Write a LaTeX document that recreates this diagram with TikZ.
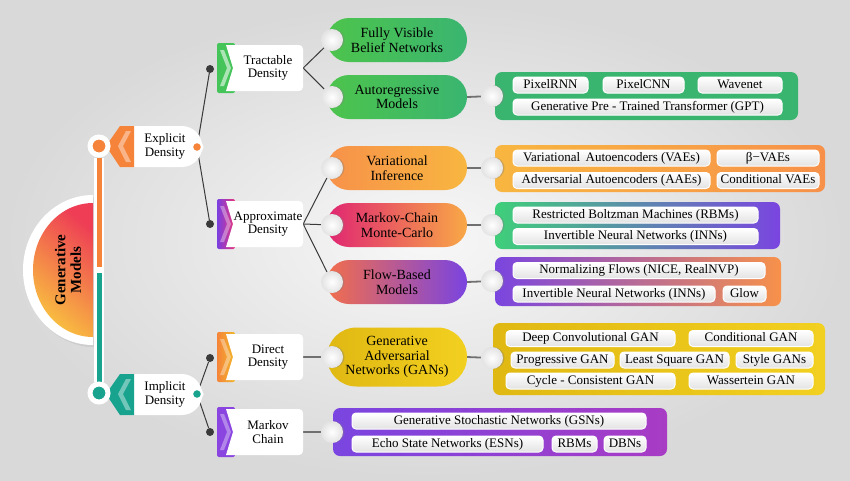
\documentclass[tikz,border=0pt]{standalone}
\usepackage{fontspec}
\setmainfont{Liberation Serif}
\usetikzlibrary{positioning, shapes.misc, shadows}

\definecolor{linkgray}{HTML}{3A3A3A}
\definecolor{stubgray}{HTML}{707070}
\definecolor{exporange}{HTML}{F5843A}
\definecolor{impteal}{HTML}{17A38E}
\definecolor{gmred}{HTML}{EE3D55}
\definecolor{gmyellow}{HTML}{F9C23F}
\definecolor{tractgreen}{HTML}{45C45A}
\definecolor{apppurple}{HTML}{7A3FE0}
\definecolor{appmagenta}{HTML}{E8357E}
\definecolor{diryellow}{HTML}{F2B62A}
\definecolor{mkvpurple}{HTML}{8A45E0}
\definecolor{grnA}{HTML}{4DC44C}
\definecolor{grnB}{HTML}{8EDB45}
\definecolor{grnC}{HTML}{3AB570}
\definecolor{grnD}{HTML}{3FCF7A}
\definecolor{viA}{HTML}{F7914A}
\definecolor{viB}{HTML}{EE3E5A}
\definecolor{viC}{HTML}{F8B640}
\definecolor{mcA}{HTML}{E02672}
\definecolor{mcB}{HTML}{F05A50}
\definecolor{mcC}{HTML}{F8A846}
\definecolor{flA}{HTML}{F26E4C}
\definecolor{flB}{HTML}{E0257A}
\definecolor{flC}{HTML}{7A44E0}
\definecolor{ganA}{HTML}{E0B812}
\definecolor{ganB}{HTML}{F2D020}
\definecolor{purA}{HTML}{7A45E0}
\definecolor{purB}{HTML}{A83CC4}

\pgfdeclarelayer{back}
\pgfdeclarelayer{links}
\pgfsetlayers{back,links,main}

\tikzset{
  lvltwo/.style={fill=white, rounded corners=4pt, minimum width=70pt, minimum height=46pt,
    align=center, inner sep=0pt, font=\fontsize{13}{13.5}\selectfont},
  lvlone/.style={rounded rectangle, rounded rectangle west arc=none, fill=white,
    minimum width=80pt, minimum height=41pt, align=center, inner sep=0pt,
    font=\fontsize{13}{13.5}\selectfont},
  lvlthree/.style={rounded rectangle, minimum width=140pt, minimum height=44pt,
    align=center, inner sep=0pt, font=\fontsize{14}{14.5}\selectfont},
  groupbox/.style={rounded corners=7pt, inner sep=0pt},
  entry/.style={rounded corners=4pt, draw=white, line width=1pt, top color=white,
    bottom color=gray!22, minimum height=16pt, inner sep=0pt, text height=9pt,
    text depth=2.5pt, font=\fontsize{13}{13}\selectfont},
  knob/.style={circle, inner sep=0pt, minimum size=22pt, inner color=white,
    outer color=gray!22, drop shadow={opacity=.35, shadow xshift=1.5pt, shadow yshift=0pt}},
  barknob/.style={circle, draw=white, line width=5pt, minimum size=18pt, inner sep=0pt},
  smallknob/.style={circle, draw=white, line width=2.5pt, minimum size=10.5pt, inner sep=0pt},
  joint/.style={circle, fill=linkgray, inner sep=0pt, minimum size=8pt},
  link/.style={draw=linkgray, line width=1pt},
  stub/.style={draw=stubgray, line width=1.8pt},
}

\begin{document}
\begin{tikzpicture}[x=1pt, y=-1pt]
\useasboundingbox (0,0) rectangle (850,480);

\begin{pgfonlayer}{back}
  \shade[inner color=gray!6, outer color=gray!30] (0,0) rectangle (850,480);
  % half disc
  \fill[white, drop shadow={opacity=.15}] (93,345) arc[start angle=90, end angle=270, x radius=70, y radius=75] -- cycle;
  \shade[top color=gmred, bottom color=gmyellow, shading angle=-40] (93,337) arc[start angle=90, end angle=270, x radius=60, y radius=67] -- cycle;
\end{pgfonlayer}

\node[rotate=90, align=center, font=\fontsize{15}{15.5}\selectfont\bfseries] (root) at (68,270) {Generative\\Models};

% explicit / implicit
\node[lvlone] (explicit) at (160,146.5) {\hspace*{10pt}Explicit\\\hspace*{10pt}Density};
\fill[exporange] (106,146) -- (120,126) -- (134,126) -- (134,167) -- (120,167) -- cycle;
\fill[exporange!50!white, opacity=.8] (118,146) -- (126,131) -- (131,131) -- (123,146) -- (131,162) -- (126,162) -- cycle;
\node[lvlone] (implicit) at (160,394.5) {\hspace*{10pt}Implicit\\\hspace*{10pt}Density};
\fill[impteal] (106,394) -- (120,374) -- (134,374) -- (134,415) -- (120,415) -- cycle;
\fill[impteal!50!white, opacity=.8] (118,394) -- (126,379) -- (131,379) -- (123,394) -- (131,410) -- (126,410) -- cycle;

\node[barknob, fill=exporange] (expl-knob) at (99,146) {};
\node[barknob, fill=impteal] (impl-knob) at (99,393) {};
\coordinate (bar-mid-a) at (99,267);
\coordinate (bar-mid-b) at (99,273);
\node[smallknob, fill=exporange] (expl-dot) at (197,147) {};
\node[smallknob, fill=impteal] (impl-dot) at (197,394) {};

% second level
\fill[tractgreen, rounded corners=2pt] (217,43) rectangle (235,93);
\fill[tractgreen!45!white] (220,50) -- (227,68) -- (220,86) -- (224,86) -- (231,68) -- (224,50) -- cycle;
\fill[white] (226,45) -- (236,45) -- (236,91) -- (226,91) -- (233,68) -- cycle;
\node[lvltwo] (tract) at (268,68) {Tractable\\Density};

\shade[left color=apppurple, right color=appmagenta, rounded corners=2pt] (217,199) rectangle (235,249);
\fill[white, opacity=.35] (220,206) -- (227,224) -- (220,242) -- (224,242) -- (231,224) -- (224,206) -- cycle;
\fill[white] (226,201) -- (236,201) -- (236,247) -- (226,247) -- (233,224) -- cycle;
\node[lvltwo] (approx) at (268,224) {Approximate\\Density};

\shade[left color=exporange, right color=diryellow, rounded corners=2pt] (217,332) rectangle (235,382);
\fill[white, opacity=.35] (220,339) -- (227,357) -- (220,375) -- (224,375) -- (231,357) -- (224,339) -- cycle;
\fill[white] (226,334) -- (236,334) -- (236,380) -- (226,380) -- (233,357) -- cycle;
\node[lvltwo] (direct) at (268,357) {Direct\\Density};

\fill[mkvpurple, rounded corners=2pt] (217,407) rectangle (235,457);
\fill[white, opacity=.35] (220,414) -- (227,432) -- (220,450) -- (224,450) -- (231,432) -- (224,414) -- cycle;
\fill[white] (226,409) -- (236,409) -- (236,455) -- (226,455) -- (233,432) -- cycle;
\node[lvltwo] (markov) at (268,432) {Markov\\Chain};

\node[joint] (tract-dot) at (210,69) {};
\node[joint] (approx-dot) at (210,224) {};
\node[joint] (direct-dot) at (210,358) {};
\node[joint] (markov-dot) at (210,432) {};

% third level
\node[lvlthree, left color=grnA, right color=grnC] (fvbn) at (397,40) {Fully Visible\\Belief Networks};
\node[lvlthree, left color=grnA, middle color=grnB, right color=grnC] (autoreg) at (397,97) {Autoregressive\\Models};
\node[lvlthree, left color=viA, middle color=viB, right color=viC] (vi) at (397,168) {Variational\\Inference};
\node[lvlthree, left color=mcA, middle color=mcB, right color=mcC] (mcmc) at (397,225) {Markov-Chain\\Monte-Carlo};
\node[lvlthree, left color=flA, middle color=flB, right color=flC] (flow) at (397,282) {Flow-Based\\Models};
\node[lvlthree, minimum height=59pt, left color=ganA, right color=ganB] (gan) at (397,357) {Generative\\Adversarial\\Networks (GANs)};

\node[knob] (fvbn-knob) at (332,40) {};
\node[knob] (autoreg-knob) at (332,97) {};
\node[knob] (vi-knob) at (332,168) {};
\node[knob] (mcmc-knob) at (332,225) {};
\node[knob] (flow-knob) at (332,282) {};
\node[knob] (gan-knob) at (332,357) {};

% fourth level
\node[groupbox, minimum width=303pt, minimum height=48pt, left color=grnC, middle color=grnB, right color=grnC] (pixbox) at (646.5,96) {};
\node[groupbox, minimum width=330pt, minimum height=47pt, left color=viC, middle color=viB, right color=viA] (vaebox) at (660,168.5) {};
\node[groupbox, minimum width=285pt, minimum height=47pt, left color=grnD, right color=purA] (rbmbox) at (637.5,225.5) {};
\node[groupbox, minimum width=286pt, minimum height=49pt, left color=purA, middle color=flB, right color=viA] (nfbox) at (638,281.5) {};
\node[groupbox, minimum width=332pt, minimum height=72pt, left color=ganA, right color=ganB] (ganbox) at (659,359) {};
\node[groupbox, minimum width=334pt, minimum height=48pt, left color=purA, right color=purB] (mcbox) at (500,432) {};

\node[entry, minimum width=75pt] (pixelrnn) at (550.5,85) {PixelRNN};
\node[entry, minimum width=81pt] (pixelcnn) at (643.5,85) {PixelCNN};
\node[entry, minimum width=84pt] (wavenet) at (740,85) {Wavenet};
\node[entry, minimum width=269pt] (gpt) at (647.5,107) {Generative Pre - Trained Transformer (GPT)};

\node[entry, minimum width=197pt] (vaes) at (611.5,158) {Variational \,Autoencoders (VAEs)};
\node[entry, minimum width=102pt] (betavaes) at (768,158) {β−VAEs};
\node[entry, minimum width=197pt] (aaes) at (611.5,180.5) {Adversarial Autoencoders (AAEs)};
\node[entry, minimum width=102pt] (cvaes) at (768,180.5) {Conditional VAEs};

\node[entry, minimum width=245pt] (rbms) at (635.5,215) {Restricted Boltzman Machines (RBMs)};
\node[entry, minimum width=245pt] (inns) at (635.5,236.5) {Invertible Neural Networks (INNs)};

\node[entry, minimum width=252pt] (nflows) at (639,270.5) {Normalizing Flows (NICE, RealNVP)};
\node[entry, minimum width=202pt] (inns-b) at (614,294) {Invertible Neural Networks (INNs)};
\node[entry, minimum width=43pt] (glow) at (744.5,294) {Glow};

\node[entry, minimum width=169pt] (dcgan) at (590.5,338.5) {Deep Convolutional GAN};
\node[entry, minimum width=124pt] (cgan) at (751,338.5) {Conditional GAN};
\node[entry, minimum width=103pt] (proggan) at (562.5,360) {Progressive GAN};
\node[entry, minimum width=109pt] (lsgan) at (674.5,360) {Least Square GAN};
\node[entry, minimum width=77pt] (stylegan) at (774.5,360) {Style GANs};
\node[entry, minimum width=169pt] (cyclegan) at (590.5,381) {Cycle - Consistent GAN};
\node[entry, minimum width=124pt] (wgan) at (751,381) {Wassertein GAN};

\node[entry, minimum width=294pt] (gsns) at (499,421) {Generative Stochastic Networks (GSNs)};
\node[entry, minimum width=191pt] (esns) at (447.5,444) {Echo State Networks (ESNs)};
\node[entry, minimum width=45pt] (rbms-b) at (574.5,444) {RBMs};
\node[entry, minimum width=42pt] (dbns) at (625,444) {DBNs};

\node[knob] (pix-knob) at (492,96) {};
\node[knob] (vae-knob) at (492,168) {};
\node[knob] (rbm-knob) at (492,225) {};
\node[knob] (nf-knob) at (492,281) {};
\node[knob] (gans-knob) at (492,358) {};
\node[knob] (mc-knob) at (332,432) {};

% bar and connectors
\begin{pgfonlayer}{back}
  \draw[white, line width=10pt] (expl-knob) -- (impl-knob);
  \draw[exporange, line width=5pt] (expl-knob) -- (bar-mid-a);
  \draw[impteal, line width=5pt] (bar-mid-b) -- (impl-knob);
\end{pgfonlayer}
\begin{pgfonlayer}{links}
  \draw[link] (expl-dot) -- (tract-dot);
  \draw[link] (expl-dot) -- (approx-dot);
  \draw[link] (impl-dot) -- (direct-dot);
  \draw[link] (impl-dot) -- (markov-dot);
  \draw[link] (tract.east) -- (fvbn-knob);
  \draw[link] (tract.east) -- (autoreg-knob);
  \draw[link] (approx.east) -- (vi-knob);
  \draw[link] (approx.east) -- (mcmc-knob);
  \draw[link] (approx.east) -- (flow-knob);
  \draw[stub] (direct.east) -- (gan-knob);
  \draw[stub] (markov.east) -- (mc-knob);
  \draw[stub] (autoreg.east) -- (pix-knob);
  \draw[stub] (vi.east) -- (vae-knob);
  \draw[stub] (mcmc.east) -- (rbm-knob);
  \draw[stub] (flow.east) -- (nf-knob);
  \draw[stub] (gan.east) -- (gans-knob);
\end{pgfonlayer}
\end{tikzpicture}
\end{document}
